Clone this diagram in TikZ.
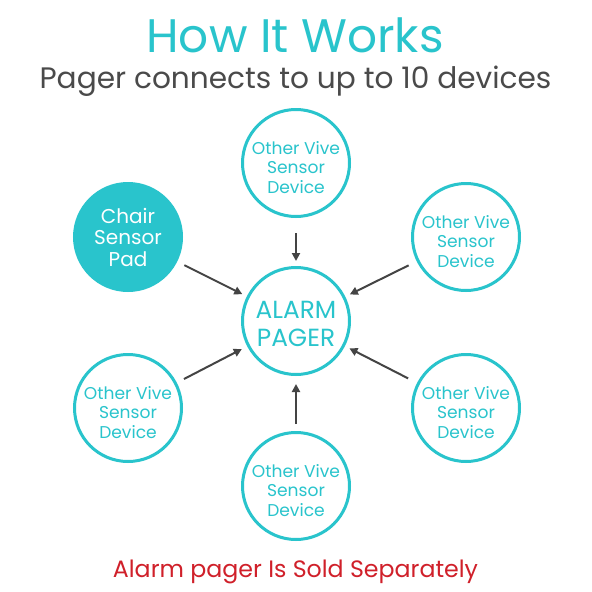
\documentclass[tikz,border=0pt]{standalone}
\usepackage{fontspec}
\setmainfont{Poppins}
\usetikzlibrary{arrows.meta}
\definecolor{tealc}{RGB}{41,196,204}
\definecolor{arrowgray}{RGB}{68,68,68}
\definecolor{subgray}{RGB}{74,74,74}
\definecolor{alertred}{RGB}{208,32,42}
\begin{document}
\begin{tikzpicture}[x=1pt,y=-1pt,
  ring/.style={circle,draw=tealc,line width=3pt,minimum size=107pt,inner sep=0pt},
  devtext/.style={text=tealc,align=center,inner sep=0pt,yshift=-4.5pt,font=\fontsize{17.1}{19.5}\selectfont},
  chairnode/.style={circle,fill=tealc,draw=tealc,line width=3pt,minimum size=107pt,inner sep=0pt,
    text=white,align=center,font=\fontsize{20}{21.5}\selectfont},
  pagertext/.style={text=tealc,align=center,inner sep=0pt,yshift=-2.5pt,font=\fontsize{24.8}{28}\selectfont},
  conn/.style={draw=arrowgray,line width=2pt,-{Triangle[length=8pt,width=8pt]}},
  titletext/.style={anchor=base,text=tealc,font=\fontsize{47}{50}\selectfont},
  subtext/.style={anchor=base,text=subgray,font=\fontsize{29.6}{32}\selectfont},
  notetext/.style={anchor=base,text=alertred,font=\fontsize{23.7}{26}\selectfont}]
\useasboundingbox[fill=white] (0,0) rectangle (592,592);

\node[titletext] (title) at (295,52) {How It Works};
\node[subtext] (subtitle) at (295.5,88) {Pager connects to up to 10 devices};
\node[notetext] (note) at (295.5,577) {Alarm pager Is Sold Separately};

\node[ring,label={[pagertext]center:ALARM\\PAGER}] (pager) at (296,321) {};
\node[ring,label={[devtext]center:Other Vive\\Sensor\\Device}] (top) at (296,163) {};
\node[ring,label={[devtext]center:Other Vive\\Sensor\\Device}] (bottom) at (296,486) {};
\node[chairnode] (chair) at (128,237) {Chair\\Sensor\\Pad};
\node[ring,label={[devtext]center:Other Vive\\Sensor\\Device}] (ur) at (466,237) {};
\node[ring,label={[devtext]center:Other Vive\\Sensor\\Device}] (ll) at (128,408) {};
\node[ring,label={[devtext]center:Other Vive\\Sensor\\Device}] (lr) at (466,408) {};

\draw[conn,shorten <=15pt,shorten >=5pt] (top) -- (pager);
\draw[conn,shorten <=7pt,shorten >=8pt] (bottom) -- (pager);
\draw[conn,shorten <=8pt,shorten >=5pt] (chair) -- (pager);
\draw[conn,shorten <=9pt,shorten >=5pt] (ur) -- (pager);
\draw[conn,shorten <=8pt,shorten >=6pt] (ll) -- (pager);
\draw[conn,shorten <=10pt,shorten >=5pt] (lr) -- (pager);
\end{tikzpicture}
\end{document}
